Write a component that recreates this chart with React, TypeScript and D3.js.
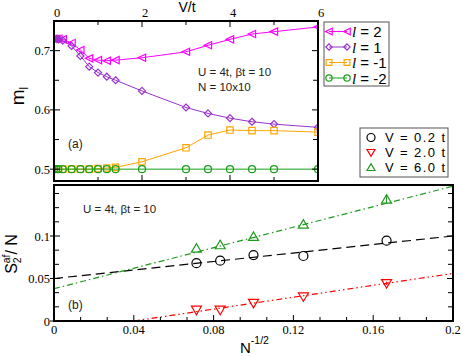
import React from "react";
import * as d3 from "d3";

// top panel: m_l vs V/t (U = 4t, beta t = 10, N = 10x10)
const vValues = [0, 0.05, 0.1, 0.2, 0.4, 0.6, 0.8, 1.0, 1.2, 1.4, 2, 3, 3.5, 4, 4.5, 5, 6];
const mL2 = [0.72, 0.72, 0.72, 0.719, 0.713, 0.701, 0.687, 0.684, 0.683, 0.684, 0.688, 0.698, 0.709, 0.719, 0.728, 0.732, 0.74];
const mL1 = [0.72, 0.72, 0.719, 0.717, 0.708, 0.691, 0.673, 0.663, 0.656, 0.65, 0.632, 0.604, 0.594, 0.586, 0.58, 0.576, 0.5705];
const mLm1 = [0.5, 0.5, 0.5, 0.5, 0.5, 0.5, 0.5, 0.501, 0.502, 0.503, 0.5125, 0.536, 0.5575, 0.566, 0.565, 0.565, 0.5625];
const mLm2 = [0.5, 0.5, 0.5, 0.5, 0.5, 0.5, 0.5, 0.5, 0.5, 0.5, 0.5, 0.5, 0.5, 0.5, 0.5, 0.5, 0.5];
const lLabels = ["2", "1", "-1", "-2"];

// bottom panel: S2af/N vs N^-1/2
const invSqrtN = [0.0714, 0.0833, 0.1, 0.125, 0.1667];
const sV02 = [0.068, 0.071, 0.0776, 0.0765, 0.0945];
const sV20 = [0.013, 0.013, 0.021, 0.0286, 0.0443];
const sV60 = [0.0855, 0.0894, 0.0992, 0.1137, 0.1431];
const errV60 = [0, 0, 0, 0, 0.0055];
const errV20 = [0, 0, 0, 0, 0.002];
// linear fits: [intercept, slope]
const fitV02 = [0.05, 0.25];
const fitV20 = [-0.014, 0.35];
const fitV60 = [0.038, 0.603];
const vLegend = ["V = 0.2 t", "V = 2.0 t", "V = 6.0 t"];

const sans = "'Liberation Sans', Arial, sans-serif";
const serif = "'Liberation Serif', 'Times New Roman', serif";

// marker paths centred on 0,0
const triLeft = (r: number) => `M${-r},0L${r * 0.9},${-r * 0.9}L${r * 0.9},${r * 0.9}Z`;
const triDown = (r: number) => `M${-r},${-r * 0.75}L${r},${-r * 0.75}L0,${r * 0.95}Z`;
const triUp = (r: number) => `M${-r},${r * 0.75}L${r},${r * 0.75}L0,${-r * 0.95}Z`;
const diamond = (r: number) => `M0,${-r}L${r},0L0,${r}L${-r},0Z`;
const square = (r: number) => `M${-r},${-r}H${r}V${r}H${-r}Z`;

function Marker({ kind, x, y, color, r }: { kind: string; x: number; y: number; color: string; r: number }) {
  if (kind === "circle") {
    return <circle cx={x} cy={y} r={r} fill="none" stroke={color} strokeWidth={1.2} />;
  }
  let d = square(r);
  if (kind === "triLeft") d = triLeft(r);
  if (kind === "diamond") d = diamond(r);
  if (kind === "triDown") d = triDown(r);
  if (kind === "triUp") d = triUp(r);
  return <path d={d} transform={`translate(${x},${y})`} fill="none" stroke={color} strokeWidth={1.2} />;
}

export default function App() {
  // ---------- top panel ----------
  const tL = 54, tR = 318, tT = 21, tB = 181;
  const xTop = d3.scaleLinear().domain([0, 6]).range([tL, tR]);
  const yTop = d3.scaleLinear().domain([0.48, 0.75]).range([tB, tT]);
  const lineTop = (vals: number[]) =>
    d3.line<number>().x((_, i) => xTop(vValues[i])).y((v) => yTop(v))(vals) || "";

  const topSeries = [
    { vals: mL2, color: "#ff00ff", kind: "triLeft", r: 4 },
    { vals: mL1, color: "#9933cc", kind: "diamond", r: 3.5 },
    { vals: mLm1, color: "#ffa500", kind: "square", r: 3.2 },
    { vals: mLm2, color: "#17a017", kind: "circle", r: 3.5 },
  ];

  // ---------- bottom panel ----------
  const bL = 54, bR = 453, bT = 185, bB = 321;
  const xBot = d3.scaleLinear().domain([0, 0.2]).range([bL, bR]);
  const yBot = d3.scaleLinear().domain([0, 0.16]).range([bB, bT]);

  const botSeries = [
    { vals: sV02, err: null as number[] | null, fit: fitV02, color: "#000000", kind: "circle", dash: "9,5", r: 4.5 },
    { vals: sV20, err: errV20, fit: fitV20, color: "#ff0000", kind: "triDown", dash: "6,3,1.5,3,1.5,3", r: 5 },
    { vals: sV60, err: errV60, fit: fitV60, color: "#1f9a1f", kind: "triUp", dash: "6,3,1.5,3", r: 5 },
  ];

  const fitPath = (fit: number[]) => {
    const x0 = Math.max(0, -fit[0] / fit[1]);
    const x1 = 0.2;
    return `M${xBot(x0)},${yBot(fit[0] + fit[1] * x0)}L${xBot(x1)},${yBot(fit[0] + fit[1] * x1)}`;
  };

  const topMajorX = d3.range(0, 6.01, 2);
  const topMinorX = d3.range(1, 6, 2);
  const topMajorY = [0.5, 0.6, 0.7];
  const topMinorY = [0.55, 0.65];
  const botMajorX = d3.range(0, 0.2001, 0.04);
  const botMinorX = d3.range(0, 0.2, 0.04 / 3).filter((_, i) => i % 3 !== 0);
  const botMajorY = [0, 0.05, 0.1];
  const botMinorY = d3.range(0, 0.16, 0.05 / 3).filter((_, i) => i % 3 !== 0 || i === 9);

  return (
    <svg width={463} height={356} style={{ position: "absolute", left: 0, top: 0, background: "#fff" }}>
      {/* ===== top panel ===== */}
      <defs>
        <clipPath id="clipTop">
          <rect x={tL} y={tT} width={tR - tL} height={tB - tT} />
        </clipPath>
        <clipPath id="clipBot">
          <rect x={bL} y={bT} width={bR - bL} height={bB - bT} />
        </clipPath>
      </defs>

      <g clipPath="url(#clipTop)">
        {topSeries.map((s, si) => (
          <g key={si}>
            <path d={lineTop(s.vals)} fill="none" stroke={s.color} strokeWidth={1} />
            {s.vals.map((v, i) => (
              <Marker key={i} kind={s.kind} x={xTop(vValues[i])} y={yTop(v)} color={s.color} r={s.r} />
            ))}
          </g>
        ))}
      </g>

      {/* top panel ticks */}
      <g stroke="#000" strokeWidth={1}>
        {topMajorX.map((t) => (
          <g key={"tx" + t}>
            <line x1={xTop(t)} x2={xTop(t)} y1={tT} y2={tT + 6} />
            <line x1={xTop(t)} x2={xTop(t)} y1={tB} y2={tB - 6} />
          </g>
        ))}
        {topMinorX.map((t) => (
          <g key={"tmx" + t}>
            <line x1={xTop(t)} x2={xTop(t)} y1={tT} y2={tT + 4} />
            <line x1={xTop(t)} x2={xTop(t)} y1={tB} y2={tB - 4} />
          </g>
        ))}
        {topMajorY.map((t) => (
          <g key={"ty" + t}>
            <line x1={tL - 4} x2={tL + 6} y1={yTop(t)} y2={yTop(t)} />
            <line x1={tR} x2={tR - 6} y1={yTop(t)} y2={yTop(t)} />
          </g>
        ))}
        {topMinorY.map((t) => (
          <g key={"tmy" + t}>
            <line x1={tL} x2={tL + 5} y1={yTop(t)} y2={yTop(t)} />
            <line x1={tR} x2={tR - 5} y1={yTop(t)} y2={yTop(t)} />
          </g>
        ))}
      </g>
      <rect x={tL} y={tT} width={tR - tL} height={tB - tT} fill="none" stroke="#000" strokeWidth={2} />

      <g fontFamily={serif} fontSize={12.5} fill="#000">
        {topMajorX.map((t) => (
          <text key={"txl" + t} x={xTop(t) + 3} y={17} textAnchor="middle">
            {d3.format("d")(t)}
          </text>
        ))}
        {topMajorY.map((t) => (
          <text key={"tyl" + t} x={tL - 4} y={yTop(t) + 4.5} textAnchor="end">
            {d3.format(".1f")(t)}
          </text>
        ))}
      </g>
      <text x={187} y={12} textAnchor="middle" fontFamily={sans} fontSize={14}>
        V/t
      </text>
      <text transform="translate(23.5,96) rotate(-90)" textAnchor="middle" fontFamily={sans} fontSize={19}>
        m
        <tspan fontSize={12} dy={4}>l</tspan>
      </text>
      <g fontFamily={sans} fontSize={11.5} fill="#222">
        <text x={198} y={76}>U = 4t, βt = 10</text>
        <text x={198} y={91}>N = 10x10</text>
        <text x={68} y={148} fontSize={12}>(a)</text>
      </g>

      {/* top legend */}
      <rect x={324} y={22} width={65} height={64} fill="#fff" stroke="#555" strokeWidth={1} />
      {topSeries.map((s, i) => {
        const ly = 31.5 + i * 15.5;
        return (
          <g key={"lg" + i}>
            <line x1={329} x2={347} y1={ly} y2={ly} stroke={s.color} strokeWidth={1} />
            <Marker kind={s.kind} x={329} y={ly} color={s.color} r={s.r * 0.9} />
            <Marker kind={s.kind} x={347} y={ly} color={s.color} r={s.r * 0.9} />
            <text x={352} y={ly + 5.5} fontFamily={sans} fontSize={15}>
              <tspan fontFamily={serif} fontStyle="italic">l</tspan>
              {" = " + lLabels[i]}
            </text>
          </g>
        );
      })}

      {/* ===== bottom panel ===== */}
      <g clipPath="url(#clipBot)">
        {botSeries.map((s, si) => (
          <g key={"bs" + si}>
            <path d={fitPath(s.fit)} fill="none" stroke={s.color} strokeWidth={1.2} strokeDasharray={s.dash} />
            {s.vals.map((v, i) => (
              <g key={i}>
                {s.err && s.err[i] > 0 && (
                  <line x1={xBot(invSqrtN[i])} x2={xBot(invSqrtN[i])} y1={yBot(v - s.err[i])} y2={yBot(v + s.err[i])} stroke={s.color} strokeWidth={1} />
                )}
                <Marker kind={s.kind} x={xBot(invSqrtN[i])} y={yBot(v)} color={s.color} r={s.r} />
              </g>
            ))}
          </g>
        ))}
      </g>

      <g stroke="#000" strokeWidth={1}>
        {botMajorX.map((t) => (
          <line key={"bx" + t} x1={xBot(t)} x2={xBot(t)} y1={bB} y2={bB - 6} />
        ))}
        {botMinorX.map((t) => (
          <line key={"bmx" + t} x1={xBot(t)} x2={xBot(t)} y1={bB} y2={bB - 4} />
        ))}
        {botMajorY.map((t) => (
          <g key={"by" + t}>
            <line x1={bL - 4} x2={bL + 6} y1={yBot(t)} y2={yBot(t)} />
            <line x1={bR} x2={bR - 6} y1={yBot(t)} y2={yBot(t)} />
          </g>
        ))}
        {botMinorY.map((t) => (
          <g key={"bmy" + t}>
            <line x1={bL} x2={bL + 5} y1={yBot(t)} y2={yBot(t)} />
            <line x1={bR} x2={bR - 5} y1={yBot(t)} y2={yBot(t)} />
          </g>
        ))}
      </g>
      <rect x={bL} y={bT} width={bR - bL} height={bB - bT} fill="none" stroke="#000" strokeWidth={2} />

      <g fontFamily={serif} fontSize={12.5} fill="#000">
        {botMajorX.map((t) => (
          <text key={"bxl" + t} x={xBot(t)} y={334} textAnchor="middle">
            {t === 0 ? "0" : d3.format(".2~f")(t)}
          </text>
        ))}
        {botMajorY.map((t) => (
          <text key={"byl" + t} x={bL - 4} y={yBot(t) + 4.5} textAnchor="end">
            {t === 0 ? "0" : d3.format(".2~f")(t)}
          </text>
        ))}
      </g>
      <text x={240} y={353} fontFamily={sans} fontSize={15}>
        N<tspan fontSize={10.5} dy={-9}>-1/2</tspan>
      </text>
      <text transform="translate(17,254) rotate(-90)" textAnchor="middle" fontFamily={sans} fontSize={16}>
        S<tspan fontSize={10.5} dy={4}>2</tspan>
        <tspan fontSize={10.5} dx={-6} dy={-11}>af</tspan>
        <tspan dy={7}>/ N</tspan>
      </text>
      <g fontFamily={sans} fontSize={11.5} fill="#222">
        <text x={83} y={213}>U = 4t, βt = 10</text>
        <text x={68} y={309} fontSize={12}>(b)</text>
      </g>

      {/* bottom legend */}
      <rect x={360} y={128} width={88} height={49} fill="#fff" stroke="#555" strokeWidth={1} />
      {botSeries.map((s, i) => {
        const ly = 137.5 + i * 15;
        return (
          <g key={"blg" + i}>
            <Marker kind={s.kind} x={371} y={ly} color={s.color} r={4} />
            <text x={385} y={ly + 4.5} fontFamily={sans} fontSize={13} textLength={60} lengthAdjust="spacing">
              {vLegend[i]}
            </text>
          </g>
        );
      })}
    </svg>
  );
}
